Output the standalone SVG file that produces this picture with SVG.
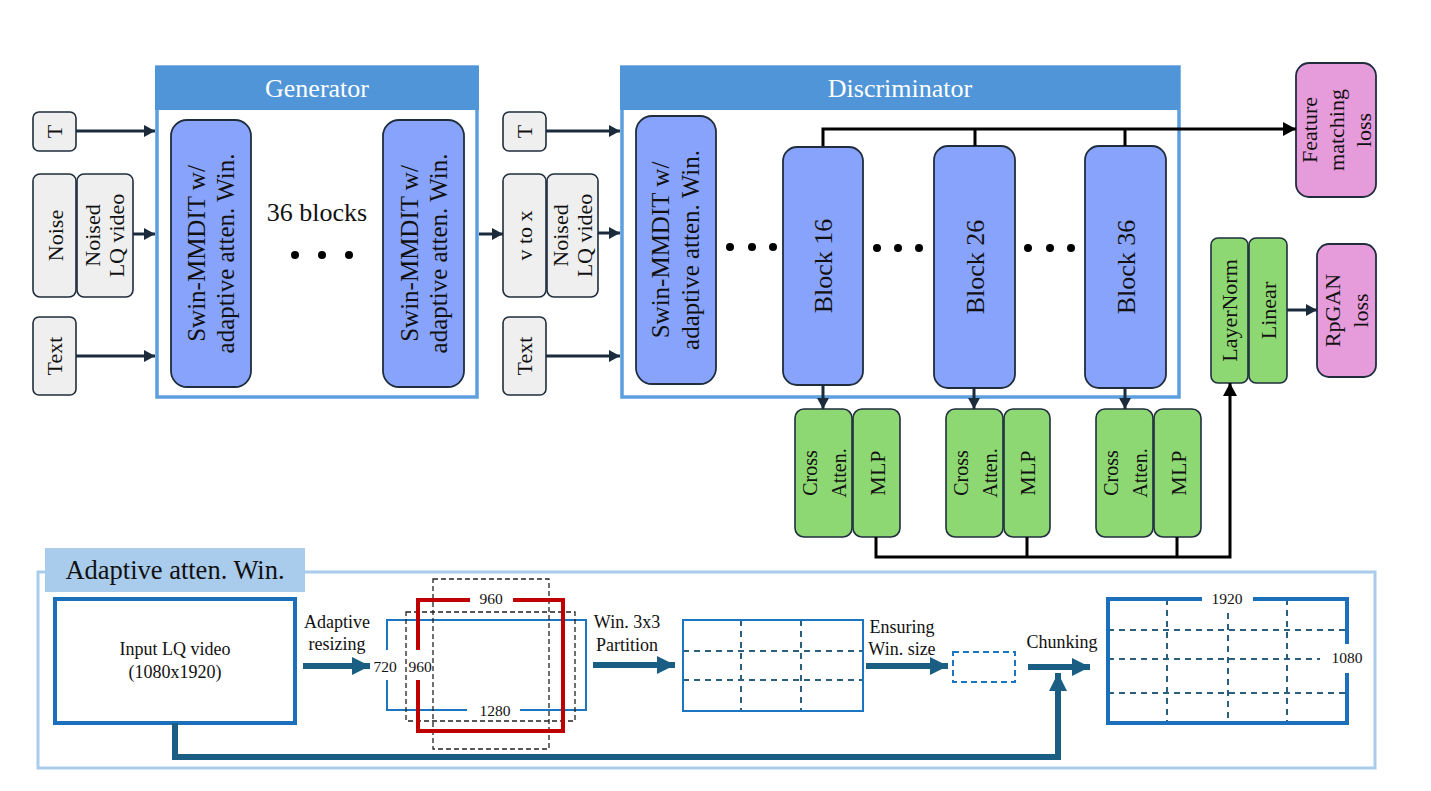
<svg xmlns="http://www.w3.org/2000/svg" width="1431" height="791" viewBox="0 0 1431 791">
<defs>
<style>
text{font-family:"Liberation Serif","Times New Roman",serif;fill:#111;}
.frame{fill:#fff;stroke:#5b9fde;stroke-width:3.5;}
.hdr{fill:#4f95d8;}
.hdrt{fill:#fff;font-size:26px;text-anchor:middle;}
.inp{fill:#efefef;stroke:#1f2d3d;stroke-width:1.6;}
.blk{fill:#88a3fb;stroke:#1f2d3d;stroke-width:1.8;}
.grn{fill:#8ed873;stroke:#1f2d3d;stroke-width:1.6;}
.pnk{fill:#e69bdb;stroke:#1f2d3d;stroke-width:1.8;}
.rt{text-anchor:middle;}
.f22{font-size:22px;}
.f25{font-size:25px;}
.f26{font-size:26px;}
.f20{font-size:20px;}
.nav{stroke:#1b2b3c;stroke-width:3;fill:none;}
.blkln{stroke:#000;stroke-width:3;fill:none;}
.teal{stroke:#1a5f83;stroke-width:6;fill:none;}
.dash{stroke:#2b5f80;stroke-width:2;stroke-dasharray:6 5;fill:none;}
.kd{stroke:#222;stroke-width:1.3;stroke-dasharray:5 3;fill:none;}
.lbl{font-size:18px;text-anchor:middle;}
.num{font-size:15.5px;text-anchor:middle;}
</style>
<marker id="an" markerUnits="userSpaceOnUse" markerWidth="11" markerHeight="12" refX="11" refY="6" orient="auto"><path d="M0,0 L11,6 L0,12 z" fill="#1b2b3c"/></marker>
<marker id="ab" markerUnits="userSpaceOnUse" markerWidth="13" markerHeight="14" refX="13" refY="7" orient="auto"><path d="M0,0 L13,7 L0,14 z" fill="#000"/></marker>
<marker id="at" markerUnits="userSpaceOnUse" markerWidth="18" markerHeight="18" refX="18" refY="9" orient="auto"><path d="M0,0 L18,9 L0,18 z" fill="#1a5f83"/></marker>
</defs>
<rect width="1431" height="791" fill="#fff"/>

<g id="generator">
<rect class="frame" x="157" y="67" width="320" height="330"/>
<rect class="hdr" x="155" y="66" width="324" height="44"/>
<text class="hdrt" x="317" y="97">Generator</text>
</g>
<g id="discriminator">
<rect class="frame" x="622" y="67" width="557" height="330"/>
<rect class="hdr" x="620" y="66" width="560" height="44"/>
<text class="hdrt" x="900" y="97">Discriminator</text>
</g>

<g id="g-T"><rect class="inp" x="33" y="112" width="43" height="39" rx="6"/><text class="rt f22" transform="translate(54.5 131.5) rotate(-90)" y="7.5">T</text></g>
<g id="g-noise"><rect class="inp" x="33" y="174" width="43" height="123" rx="7"/><text class="rt f22" transform="translate(54.5 235.5) rotate(-90)" y="8">Noise</text></g>
<g id="g-lq"><rect class="inp" x="77" y="174" width="56" height="123" rx="7"/><text class="rt f22" transform="translate(105 235.5) rotate(-90)"><tspan x="0" y="-5">Noised</tspan><tspan x="0" y="19">LQ video</tspan></text></g>
<g id="g-text"><rect class="inp" x="33" y="317" width="43" height="78" rx="6"/><text class="rt f22" transform="translate(54.5 356) rotate(-90)" y="7.5">Text</text></g>

<g id="gen-block1"><rect class="blk" x="171" y="120" width="80" height="267" rx="16"/><text class="rt f25" transform="translate(211 253.5) rotate(-90)"><tspan x="0" y="-6">Swin-MMDIT w/</tspan><tspan x="0" y="23">adaptive atten. Win.</tspan></text></g>
<g id="gen-block2"><rect class="blk" x="383" y="120" width="81" height="267" rx="16"/><text class="rt f25" transform="translate(423.5 253.5) rotate(-90)"><tspan x="0" y="-6">Swin-MMDIT w/</tspan><tspan x="0" y="23">adaptive atten. Win.</tspan></text></g>
<g id="gen-dots">
<text class="f26" x="317" y="221" text-anchor="middle">36 blocks</text>
<circle cx="295" cy="255" r="4" fill="#000"/><circle cx="322" cy="255" r="4" fill="#000"/><circle cx="349" cy="255" r="4" fill="#000"/>
</g>

<g id="d-T"><rect class="inp" x="503" y="112" width="43" height="39" rx="6"/><text class="rt f22" transform="translate(524.5 131.5) rotate(-90)" y="7.5">T</text></g>
<g id="d-vx"><rect class="inp" x="503" y="174" width="43" height="123" rx="7"/><text class="rt f22" transform="translate(524.5 235.5) rotate(-90)" y="7">v to x</text></g>
<g id="d-lq"><rect class="inp" x="547" y="174" width="51" height="123" rx="7"/><text class="rt f22" transform="translate(572.5 235.5) rotate(-90)"><tspan x="0" y="-5">Noised</tspan><tspan x="0" y="19">LQ video</tspan></text></g>
<g id="d-text"><rect class="inp" x="503" y="317" width="43" height="78" rx="6"/><text class="rt f22" transform="translate(524.5 356) rotate(-90)" y="7.5">Text</text></g>

<g id="d-swin"><rect class="blk" x="636" y="116" width="80" height="268" rx="16"/><text class="rt f25" transform="translate(676 250) rotate(-90)"><tspan x="0" y="-7">Swin-MMDIT w/</tspan><tspan x="0" y="23">adaptive atten. Win.</tspan></text></g>
<g id="block16"><rect class="blk" x="783" y="147" width="80" height="238" rx="14"/><text class="rt f26" transform="translate(823 266) rotate(-90)" y="9">Block 16</text></g>
<g id="block26"><rect class="blk" x="934" y="146" width="81" height="242" rx="14"/><text class="rt f26" transform="translate(974.5 267) rotate(-90)" y="9">Block 26</text></g>
<g id="block36"><rect class="blk" x="1085" y="146" width="81" height="242" rx="14"/><text class="rt f26" transform="translate(1125.5 267) rotate(-90)" y="9">Block 36</text></g>
<g id="d-dots" fill="#000">
<circle cx="730" cy="247" r="4"/><circle cx="752" cy="247" r="4"/><circle cx="773" cy="247" r="4"/>
<circle cx="877" cy="248" r="4"/><circle cx="898" cy="248" r="4"/><circle cx="919" cy="248" r="4"/>
<circle cx="1028" cy="248" r="4"/><circle cx="1050" cy="248" r="4"/><circle cx="1071" cy="248" r="4"/>
</g>

<g id="cross1"><rect class="grn" x="795" y="409" width="57" height="128" rx="9"/><text class="rt f20" transform="translate(823.5 473) rotate(-90)"><tspan x="0" y="-7">Cross</tspan><tspan x="0" y="22">Atten.</tspan></text></g>
<g id="mlp1"><rect class="grn" x="853" y="409" width="47" height="128" rx="9"/><text class="rt f22" transform="translate(876.5 473) rotate(-90)" y="8">MLP</text></g>
<g id="cross2"><rect class="grn" x="946" y="409" width="57" height="128" rx="9"/><text class="rt f20" transform="translate(974.5 473) rotate(-90)"><tspan x="0" y="-7">Cross</tspan><tspan x="0" y="22">Atten.</tspan></text></g>
<g id="mlp2"><rect class="grn" x="1004" y="409" width="46" height="128" rx="9"/><text class="rt f22" transform="translate(1027 473) rotate(-90)" y="8">MLP</text></g>
<g id="cross3"><rect class="grn" x="1096" y="409" width="57" height="128" rx="9"/><text class="rt f20" transform="translate(1124.5 473) rotate(-90)"><tspan x="0" y="-7">Cross</tspan><tspan x="0" y="22">Atten.</tspan></text></g>
<g id="mlp3"><rect class="grn" x="1154" y="409" width="47" height="128" rx="9"/><text class="rt f22" transform="translate(1177.5 473) rotate(-90)" y="8">MLP</text></g>

<g id="layernorm"><rect class="grn" x="1211" y="238" width="37" height="145" rx="7"/><text class="rt f22" transform="translate(1229.5 310.5) rotate(-90)" y="7">LayerNorm</text></g>
<g id="linear"><rect class="grn" x="1249" y="238" width="38" height="145" rx="7"/><text class="rt f22" transform="translate(1268 310.5) rotate(-90)" y="8">Linear</text></g>
<g id="feature-loss"><rect class="pnk" x="1296" y="63" width="80" height="134" rx="13"/><text class="rt f22" transform="translate(1336 130) rotate(-90)"><tspan x="0" y="-19">Feature</tspan><tspan x="0" y="8">matching</tspan><tspan x="0" y="35">loss</tspan></text></g>
<g id="rpgan-loss"><rect class="pnk" x="1317" y="244" width="59" height="133" rx="12"/><text class="rt f22" transform="translate(1346.5 310.5) rotate(-90)"><tspan x="0" y="-6.5">RpGAN</tspan><tspan x="0" y="21.5">loss</tspan></text></g>

<g id="connectors">
<line class="nav" x1="76" y1="131" x2="155" y2="131" marker-end="url(#an)"/>
<line class="nav" x1="133" y1="234" x2="155" y2="234" marker-end="url(#an)"/>
<line class="nav" x1="76" y1="356" x2="155" y2="356" marker-end="url(#an)"/>
<line class="nav" x1="479" y1="234" x2="503" y2="234" marker-end="url(#an)"/>
<line class="nav" x1="546" y1="131" x2="620" y2="131" marker-end="url(#an)"/>
<line class="nav" x1="598" y1="233" x2="620" y2="233" marker-end="url(#an)"/>
<line class="nav" x1="546" y1="356" x2="620" y2="356" marker-end="url(#an)"/>
<line class="nav" x1="823" y1="385" x2="823" y2="409" marker-end="url(#an)"/>
<line class="nav" x1="974" y1="388" x2="974" y2="409" marker-end="url(#an)"/>
<line class="nav" x1="1125" y1="388" x2="1125" y2="409" marker-end="url(#an)"/>
<line class="nav" x1="1287" y1="310" x2="1317" y2="310" marker-end="url(#an)"/>
<path class="blkln" d="M823,146 V129 H1296" marker-end="url(#ab)"/>
<path class="blkln" d="M975,146 V129 M1125,146 V129"/>
<path class="blkln" d="M876,537 V557 H1230 V383" marker-end="url(#ab)"/>
<path class="blkln" d="M1027,537 V557 M1177,537 V557"/>
</g>

<g id="adaptive-section">
<rect x="38" y="572" width="1337" height="196" fill="none" stroke="#a9cbec" stroke-width="3"/>
<rect x="45" y="548" width="260" height="44" fill="#a9cbec"/>
<text x="175" y="579" font-size="26.5" text-anchor="middle">Adaptive atten. Win.</text>
</g>

<g id="input-video">
<rect x="55" y="599" width="240" height="124" fill="#fff" stroke="#1b6fbb" stroke-width="4"/>
<text class="lbl" x="175" y="655">Input LQ video</text>
<text class="lbl" x="175" y="678">(1080x1920)</text>
</g>

<g id="resize">
<text class="lbl" x="337" y="628">Adaptive</text>
<text class="lbl" x="337" y="650">resizing</text>
<path d="M387,650 V620 H586 V710 H520 M467,710 H387 V680" fill="none" stroke="#1b75c0" stroke-width="2"/>
<rect class="kd" x="433" y="579" width="116" height="170"/>
<rect class="kd" x="406" y="612" width="169" height="109"/>
<path d="M418,650 V600 H470 M513,600 H563 V731 H418 V680" fill="none" stroke="#c00000" stroke-width="4"/>
<text class="num" x="385" y="672">720</text>
<text class="num" x="420" y="672">960</text>
<text class="num" x="491" y="604">960</text>
<text class="num" x="495" y="716">1280</text>
</g>

<g id="partition">
<text class="lbl" x="627" y="628" font-size="17">Win. 3x3</text>
<text class="lbl" x="627" y="651" font-size="17">Partition</text>
<line class="dash" x1="741" y1="620" x2="741" y2="711"/>
<line class="dash" x1="801" y1="620" x2="801" y2="711"/>
<line class="dash" x1="683" y1="651" x2="863" y2="651"/>
<line class="dash" x1="683" y1="680" x2="863" y2="680"/>
<rect x="683" y="620" width="180" height="91" fill="none" stroke="#1b75c0" stroke-width="2"/>
</g>

<g id="ensure">
<text class="lbl" x="902" y="633">Ensuring</text>
<text class="lbl" x="902" y="655">Win. size</text>
<rect x="953" y="652" width="62" height="30" fill="none" stroke="#1b75c0" stroke-width="2" stroke-dasharray="6 4"/>
<text class="lbl" x="1062" y="648">Chunking</text>
</g>

<g id="chunks">
<line class="dash" x1="1167" y1="599" x2="1167" y2="723"/>
<line class="dash" x1="1228" y1="613" x2="1228" y2="723"/>
<line class="dash" x1="1287" y1="599" x2="1287" y2="723"/>
<line class="dash" x1="1108" y1="630" x2="1347" y2="630"/>
<line class="dash" x1="1108" y1="659" x2="1320" y2="659"/>
<line class="dash" x1="1108" y1="693" x2="1347" y2="693"/>
<path d="M1202,599 H1108 V723 H1347 V673 M1347,644 V599 H1253" fill="none" stroke="#1b6fbb" stroke-width="4"/>
<text class="num" x="1227" y="604">1920</text>
<text class="num" x="1347" y="663">1080</text>
</g>

<g id="bottom-connectors">
<line class="teal" x1="303" y1="666" x2="370" y2="666" marker-end="url(#at)"/>
<line class="teal" x1="593" y1="665" x2="675" y2="665" marker-end="url(#at)"/>
<line class="teal" x1="866" y1="666" x2="948" y2="666" marker-end="url(#at)"/>
<line class="teal" x1="1028" y1="667" x2="1090" y2="667" marker-end="url(#at)"/>
<path class="teal" d="M175,723 V757 H1058 V673" marker-end="url(#at)"/>
</g>
</svg>
